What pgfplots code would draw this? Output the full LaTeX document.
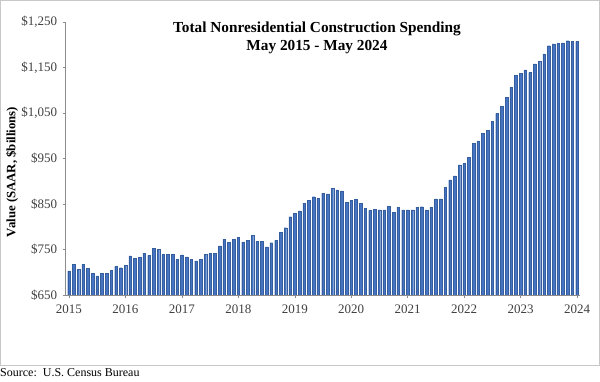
\documentclass[border=0pt]{standalone}
\usepackage{fontspec}
\setmainfont{Liberation Serif}
\usepackage{pgfplots}
\pgfplotsset{compat=1.18}
\usepackage{pgfplotstable}
\definecolor{barblue}{HTML}{4673C2}
\definecolor{baredge}{HTML}{355E9E}
\definecolor{axgray}{HTML}{8C8C8C}
\definecolor{txtgray}{HTML}{404040}
\definecolor{framegray}{HTML}{C8C8C8}

\pgfplotstableread{
idx val
0 703
1 718
2 707
3 718
4 709
5 697
6 692
7 698
8 698
9 704
10 713
11 710
12 715
13 736
14 731
15 733
16 742
17 737
18 753
19 750
20 739
21 739
22 739
23 728
24 738
25 734
26 728
27 725
28 728
29 739
30 741
31 741
32 758
33 772
34 766
35 772
36 777
37 767
38 770
39 781
40 768
41 768
42 756
43 765
44 770
45 788
46 798
47 822
48 829
49 835
50 852
51 858
52 866
53 863
54 874
55 872
56 884
57 881
58 879
59 854
60 858
61 860
62 852
63 840
64 836
65 839
66 837
67 837
68 845
69 832
70 843
71 837
72 837
73 837
74 843
75 844
76 837
77 843
78 861
79 861
80 887
81 903
82 912
83 936
84 939
85 952
86 983
87 989
88 1005
89 1012
90 1031
91 1049
92 1065
93 1084
94 1106
95 1133
96 1137
97 1145
98 1139
99 1158
100 1164
101 1180
102 1198
103 1202
104 1203
105 1204
106 1209
107 1207
108 1207
}\spending

\begin{document}
\begin{tikzpicture}[x=1pt,y=1pt]
\path[use as bounding box] (0,0) rectangle (600,382);
\draw[framegray, line width=0.8pt] (0.5,17) rectangle (599,381.5);
\begin{axis}[
  at={(65.7pt,87pt)}, anchor=south west,
  scale only axis, width=514.6pt, height=273pt,
  xmin=-0.7, xmax=108.7, ymin=650, ymax=1250,
  ybar, bar width=2.6pt, bar shift=0pt,
  axis lines*=left,
  axis line style={axgray, line width=0.6pt},
  tick style={axgray, line width=0.5pt},
  tick align=outside, major tick length=3pt,
  xtick={0,12,...,108},
  xticklabels={2015,2016,2017,2018,2019,2020,2021,2022,2023,2024},
  ytick={650,750,850,950,1050,1150,1250},
  yticklabels={\$650,\$750,\$850,\$950,{\$1,050},{\$1,150},{\$1,250}},
  /pgf/number format/assume math mode=true,
  ticklabel style={font=\fontsize{13}{15}\selectfont, text=txtgray},
  xticklabel style={yshift=-3pt},
  yticklabel style={xshift=-2pt},
]
\addplot[fill=barblue, draw=baredge, line width=0.3pt] table[x=idx, y=val] {\spending};
\end{axis}
\node[font=\bfseries\fontsize{15.3}{18}\selectfont] at (317,353) {Total Nonresidential Construction Spending};
\node[font=\bfseries\fontsize{15.3}{18}\selectfont] at (317,335) {May 2015 - May 2024};
\node[font=\bfseries\fontsize{12.8}{14}\selectfont, rotate=90] at (12,210) {Value (SAAR, \$billions)};
\node[anchor=west, font=\fontsize{12}{14}\selectfont, inner sep=0pt] at (0,9) {Source:\ \ U.S. Census Bureau};
\end{tikzpicture}
\end{document}
